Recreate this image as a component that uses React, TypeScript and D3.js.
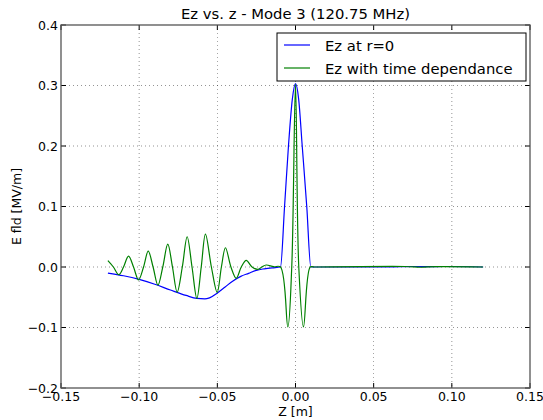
import React from "react";
import * as d3 from "d3";

const title = "Ez vs. z - Mode 3 (120.75 MHz)";
const xLabel = "Z [m]";
const yLabel = "E fld [MV/m]";
const seriesNames = ["Ez at r=0", "Ez with time dependance"];
const xTicks = [-0.15, -0.1, -0.05, 0, 0.05, 0.1, 0.15];
const yTicks = [-0.2, -0.1, 0, 0.1, 0.2, 0.3, 0.4];

// Ez at r=0
const blueZ = [-0.12, -0.11, -0.1, -0.09, -0.08, -0.07, -0.063, -0.058, -0.055, -0.05, -0.045, -0.04, -0.035, -0.03, -0.025, -0.02, -0.015, -0.0096, -0.007, -0.0045, -0.002, 0, 0.002, 0.0043, 0.0072, 0.0098, 0.012, 0.06, 0.075, 0.085, 0.095, 0.12];
const blueV = [-0.01, -0.0145, -0.0205, -0.0285, -0.038, -0.047, -0.052, -0.0528, -0.051, -0.043, -0.033, -0.023, -0.0155, -0.0105, -0.0055, -0.003, -0.0013, 0.0, 0.1, 0.2, 0.278, 0.303, 0.278, 0.2, 0.1, 0.0, 0.0, 0.0, 0.0008, 0.0005, 0.0008, 0.0];

// Ez with time dependance
const greenZ = [-0.12, -0.1165, -0.113, -0.11, -0.1068, -0.1036, -0.1004, -0.0972, -0.0942, -0.0911, -0.088, -0.0849, -0.0817, -0.0787, -0.0757, -0.0724, -0.0693, -0.0662, -0.0631, -0.0603, -0.0576, -0.0538, -0.0501, -0.0474, -0.0448, -0.0413, -0.0379, -0.0347, -0.0315, -0.0278, -0.0241, -0.0215, -0.0188, -0.014, -0.0096, -0.0049, -0.0024, 0, 0.0021, 0.0051, 0.0094, 0.012, 0.07, 0.08, 0.09, 0.12];
const greenV = [0.0104, 0, -0.0127, 0, 0.018, 0, -0.0214, 0, 0.0263, 0, -0.03, 0, 0.0378, 0, -0.0416, 0, 0.05, 0, -0.052, 0, 0.0543, 0, -0.042, 0, 0.0318, 0, -0.0186, 0, 0.011, 0, -0.0038, 0, 0.0033, 0.0005, 0.0, -0.099, 0, 0.302, 0, -0.099, 0, 0, 0.0008, -0.0004, 0.0006, 0];

const W = 543;
const H = 420;
const M = { left: 61, right: 530, top: 25, bottom: 388 };
const FONT = "DejaVu Sans, sans-serif";

const fmt = (v: number, d: number) => {
  const s = Math.abs(v) < 1e-12 ? (0).toFixed(d) : v.toFixed(d);
  return s.replace("-", "\u2212");
};

export default function App() {
  const x = d3.scaleLinear().domain([-0.15, 0.15]).range([M.left, M.right]);
  const y = d3.scaleLinear().domain([-0.2, 0.4]).range([M.bottom, M.top]);

  const blueLine = d3
    .line<[number, number]>()
    .x((d) => x(d[0]))
    .y((d) => y(d[1]))
    .curve(d3.curveMonotoneX);
  const greenLine = d3
    .line<[number, number]>()
    .x((d) => x(d[0]))
    .y((d) => y(d[1]))
    .curve(d3.curveCatmullRom.alpha(0.5));

  const blue = blueLine(blueZ.map((z, i) => [z, blueV[i]] as [number, number])) || "";
  const green = greenLine(greenZ.map((z, i) => [z, greenV[i]] as [number, number])) || "";

  const tl = 5;
  const grid = { stroke: "#000", strokeWidth: 0.6, strokeDasharray: "1,3", opacity: 0.7 };

  const lg = { x0: 277, y0: 33, x1: 526, y1: 81 };
  const tickFs = 12.5;

  return (
    <svg width={W} height={H} style={{ position: "absolute", left: 0, top: 0, background: "#fff" }} fontFamily={FONT}>
      <rect x={0} y={0} width={W} height={H} fill="#fff" />
      {/* grid */}
      {xTicks.slice(1, -1).map((t) => (
        <line key={"gx" + t} x1={x(t)} x2={x(t)} y1={M.top} y2={M.bottom} {...grid} />
      ))}
      {yTicks.slice(1, -1).map((t) => (
        <line key={"gy" + t} x1={M.left} x2={M.right} y1={y(t)} y2={y(t)} {...grid} />
      ))}
      <defs>
        <clipPath id="clip">
          <rect x={M.left} y={M.top} width={M.right - M.left} height={M.bottom - M.top} />
        </clipPath>
      </defs>
      <g clipPath="url(#clip)">
        <path d={blue} fill="none" stroke="#0000ff" strokeWidth={1.2} />
        <path d={green} fill="none" stroke="#008000" strokeWidth={1.2} />
      </g>
      {/* ticks */}
      {xTicks.map((t) => (
        <g key={"tx" + t}>
          <line x1={x(t)} x2={x(t)} y1={M.bottom} y2={M.bottom - tl} stroke="#000" strokeWidth={1} />
          <line x1={x(t)} x2={x(t)} y1={M.top} y2={M.top + tl} stroke="#000" strokeWidth={1} />
          <text x={x(t)} y={401} fontSize={tickFs} textAnchor="middle" fill="#000">
            {fmt(t, 2)}
          </text>
        </g>
      ))}
      {yTicks.map((t) => (
        <g key={"ty" + t}>
          <line x1={M.left} x2={M.left + tl} y1={y(t)} y2={y(t)} stroke="#000" strokeWidth={1} />
          <line x1={M.right} x2={M.right - tl} y1={y(t)} y2={y(t)} stroke="#000" strokeWidth={1} />
          <text x={58} y={y(t) + 4.5} fontSize={tickFs} textAnchor="end" fill="#000">
            {fmt(t, 1)}
          </text>
        </g>
      ))}
      {/* frame */}
      <rect x={M.left} y={M.top} width={M.right - M.left} height={M.bottom - M.top} fill="none" stroke="#555" strokeWidth={1.3} />
      {/* labels */}
      <text x={(M.left + M.right) / 2} y={19} fontSize={14.8} textAnchor="middle" fill="#000">
        {title}
      </text>
      <text x={(M.left + M.right) / 2} y={416} fontSize={12.5} textAnchor="middle" fill="#000">
        {xLabel}
      </text>
      <text transform={`translate(21,${(M.top + M.bottom) / 2}) rotate(-90)`} fontSize={12.5} textAnchor="middle" fill="#000">
        {yLabel}
      </text>
      {/* legend */}
      <rect x={lg.x0} y={lg.y0} width={lg.x1 - lg.x0} height={lg.y1 - lg.y0} fill="#fff" stroke="#000" strokeWidth={1} />
      {seriesNames.map((n, i) => (
        <g key={n}>
          <line x1={284} x2={310} y1={45 + i * 23} y2={45 + i * 23} stroke={i === 0 ? "#0000ff" : "#008000"} strokeWidth={1.2} />
          <text x={325} y={50.5 + i * 23} fontSize={14.8} fill="#000">
            {n}
          </text>
        </g>
      ))}
    </svg>
  );
}
